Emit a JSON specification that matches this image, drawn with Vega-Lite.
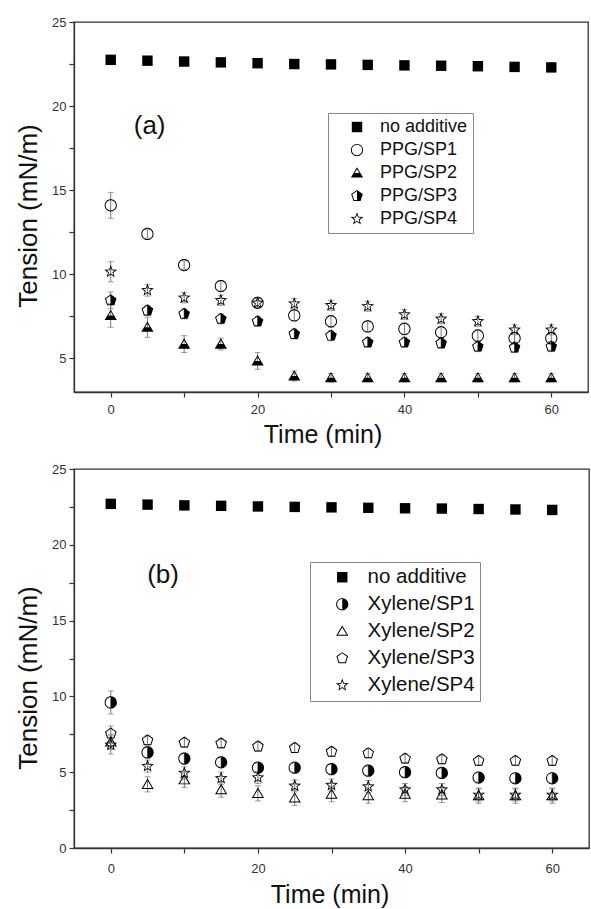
{
  "$schema": "https://vega.github.io/schema/vega-lite/v6.json",
  "padding": {"left": 14, "top": 15, "right": 0, "bottom": 0},
  "bounds": "flush",
  "spacing": 77,
  "config": {
    "font": "Liberation Sans",
    "view": {"stroke": "#333", "strokeWidth": 1.3},
    "axis": {"labelFont": "Liberation Sans", "labelFontSize": 13, "labelColor": "#333", "titleFont": "Liberation Sans", "titleFontWeight": "normal", "titleColor": "#111", "tickColor": "#333", "domainColor": "#333", "tickSize": 5, "domainWidth": 1.3, "tickWidth": 1.2, "grid": false},
    "legend": {"labelFont": "Liberation Sans", "labelColor": "#111", "strokeColor": "#888", "fillColor": "white", "padding": 5, "symbolSize": 150, "symbolStrokeWidth": 0, "symbolFillColor": "black", "symbolOpacity": 1}
  },
  "datasets": {
    "top": [
      {"t":0,"series":"no additive","v":22.75,"err":0.15},{"t":5,"series":"no additive","v":22.7,"err":0.15},{"t":10,"series":"no additive","v":22.65,"err":0.15},{"t":15,"series":"no additive","v":22.6,"err":0.15},{"t":20,"series":"no additive","v":22.55,"err":0.15},{"t":25,"series":"no additive","v":22.5,"err":0.15},{"t":30,"series":"no additive","v":22.48,"err":0.15},{"t":35,"series":"no additive","v":22.45,"err":0.15},{"t":40,"series":"no additive","v":22.42,"err":0.15},{"t":45,"series":"no additive","v":22.4,"err":0.15},{"t":50,"series":"no additive","v":22.37,"err":0.15},{"t":55,"series":"no additive","v":22.33,"err":0.15},{"t":60,"series":"no additive","v":22.3,"err":0.15},
      {"t":0,"series":"PPG/SP1","v":14.1,"err":0.77},{"t":5,"series":"PPG/SP1","v":12.4,"err":0.25},{"t":10,"series":"PPG/SP1","v":10.55,"err":0.25},{"t":15,"series":"PPG/SP1","v":9.3,"err":0.3},{"t":20,"series":"PPG/SP1","v":8.3,"err":0.25},{"t":25,"series":"PPG/SP1","v":7.55,"err":0.3},{"t":30,"series":"PPG/SP1","v":7.2,"err":0.35},{"t":35,"series":"PPG/SP1","v":6.9,"err":0.3},{"t":40,"series":"PPG/SP1","v":6.75,"err":0.35},{"t":45,"series":"PPG/SP1","v":6.55,"err":0.35},{"t":50,"series":"PPG/SP1","v":6.35,"err":0.35},{"t":55,"series":"PPG/SP1","v":6.2,"err":0.35},{"t":60,"series":"PPG/SP1","v":6.2,"err":0.35},
      {"t":0,"series":"PPG/SP2","v":7.55,"err":0.7},{"t":5,"series":"PPG/SP2","v":6.85,"err":0.6},{"t":10,"series":"PPG/SP2","v":5.85,"err":0.5},{"t":15,"series":"PPG/SP2","v":5.85,"err":0.35},{"t":20,"series":"PPG/SP2","v":4.85,"err":0.5},{"t":25,"series":"PPG/SP2","v":3.95,"err":0.3},{"t":30,"series":"PPG/SP2","v":3.85,"err":0.25},{"t":35,"series":"PPG/SP2","v":3.85,"err":0.25},{"t":40,"series":"PPG/SP2","v":3.85,"err":0.25},{"t":45,"series":"PPG/SP2","v":3.85,"err":0.25},{"t":50,"series":"PPG/SP2","v":3.85,"err":0.25},{"t":55,"series":"PPG/SP2","v":3.85,"err":0.25},{"t":60,"series":"PPG/SP2","v":3.85,"err":0.25},
      {"t":0,"series":"PPG/SP3","v":8.45,"err":0.5},{"t":5,"series":"PPG/SP3","v":7.85,"err":0.3},{"t":10,"series":"PPG/SP3","v":7.65,"err":0.3},{"t":15,"series":"PPG/SP3","v":7.35,"err":0.3},{"t":20,"series":"PPG/SP3","v":7.2,"err":0.3},{"t":25,"series":"PPG/SP3","v":6.45,"err":0.3},{"t":30,"series":"PPG/SP3","v":6.35,"err":0.3},{"t":35,"series":"PPG/SP3","v":5.95,"err":0.3},{"t":40,"series":"PPG/SP3","v":5.95,"err":0.3},{"t":45,"series":"PPG/SP3","v":5.9,"err":0.3},{"t":50,"series":"PPG/SP3","v":5.7,"err":0.3},{"t":55,"series":"PPG/SP3","v":5.65,"err":0.3},{"t":60,"series":"PPG/SP3","v":5.7,"err":0.3},
      {"t":0,"series":"PPG/SP4","v":10.15,"err":0.6},{"t":5,"series":"PPG/SP4","v":9.05,"err":0.35},{"t":10,"series":"PPG/SP4","v":8.6,"err":0.3},{"t":15,"series":"PPG/SP4","v":8.45,"err":0.3},{"t":20,"series":"PPG/SP4","v":8.3,"err":0.3},{"t":25,"series":"PPG/SP4","v":8.25,"err":0.3},{"t":30,"series":"PPG/SP4","v":8.15,"err":0.3},{"t":35,"series":"PPG/SP4","v":8.1,"err":0.3},{"t":40,"series":"PPG/SP4","v":7.6,"err":0.3},{"t":45,"series":"PPG/SP4","v":7.35,"err":0.3},{"t":50,"series":"PPG/SP4","v":7.2,"err":0.3},{"t":55,"series":"PPG/SP4","v":6.7,"err":0.3},{"t":60,"series":"PPG/SP4","v":6.7,"err":0.3}
    ],
    "bottom": [
      {"t":0,"series":"no additive","v":22.7,"err":0.15},{"t":5,"series":"no additive","v":22.65,"err":0.15},{"t":10,"series":"no additive","v":22.6,"err":0.15},{"t":15,"series":"no additive","v":22.57,"err":0.15},{"t":20,"series":"no additive","v":22.53,"err":0.15},{"t":25,"series":"no additive","v":22.5,"err":0.15},{"t":30,"series":"no additive","v":22.47,"err":0.15},{"t":35,"series":"no additive","v":22.44,"err":0.15},{"t":40,"series":"no additive","v":22.41,"err":0.15},{"t":45,"series":"no additive","v":22.39,"err":0.15},{"t":50,"series":"no additive","v":22.36,"err":0.15},{"t":55,"series":"no additive","v":22.33,"err":0.15},{"t":60,"series":"no additive","v":22.3,"err":0.15},
      {"t":0,"series":"Xylene/SP1","v":9.6,"err":0.76},{"t":5,"series":"Xylene/SP1","v":6.3,"err":0.35},{"t":10,"series":"Xylene/SP1","v":5.9,"err":0.35},{"t":15,"series":"Xylene/SP1","v":5.65,"err":0.3},{"t":20,"series":"Xylene/SP1","v":5.3,"err":0.3},{"t":25,"series":"Xylene/SP1","v":5.3,"err":0.3},{"t":30,"series":"Xylene/SP1","v":5.2,"err":0.3},{"t":35,"series":"Xylene/SP1","v":5.1,"err":0.3},{"t":40,"series":"Xylene/SP1","v":5.0,"err":0.3},{"t":45,"series":"Xylene/SP1","v":4.95,"err":0.3},{"t":50,"series":"Xylene/SP1","v":4.65,"err":0.3},{"t":55,"series":"Xylene/SP1","v":4.6,"err":0.3},{"t":60,"series":"Xylene/SP1","v":4.6,"err":0.3},
      {"t":0,"series":"Xylene/SP2","v":7.0,"err":0.5},{"t":5,"series":"Xylene/SP2","v":4.2,"err":0.5},{"t":10,"series":"Xylene/SP2","v":4.5,"err":0.5},{"t":15,"series":"Xylene/SP2","v":3.85,"err":0.5},{"t":20,"series":"Xylene/SP2","v":3.6,"err":0.5},{"t":25,"series":"Xylene/SP2","v":3.3,"err":0.5},{"t":30,"series":"Xylene/SP2","v":3.55,"err":0.5},{"t":35,"series":"Xylene/SP2","v":3.45,"err":0.5},{"t":40,"series":"Xylene/SP2","v":3.55,"err":0.5},{"t":45,"series":"Xylene/SP2","v":3.5,"err":0.5},{"t":50,"series":"Xylene/SP2","v":3.45,"err":0.5},{"t":55,"series":"Xylene/SP2","v":3.45,"err":0.5},{"t":60,"series":"Xylene/SP2","v":3.45,"err":0.5},
      {"t":0,"series":"Xylene/SP3","v":7.55,"err":0.5},{"t":5,"series":"Xylene/SP3","v":7.1,"err":0.3},{"t":10,"series":"Xylene/SP3","v":6.95,"err":0.3},{"t":15,"series":"Xylene/SP3","v":6.9,"err":0.3},{"t":20,"series":"Xylene/SP3","v":6.7,"err":0.3},{"t":25,"series":"Xylene/SP3","v":6.6,"err":0.3},{"t":30,"series":"Xylene/SP3","v":6.35,"err":0.3},{"t":35,"series":"Xylene/SP3","v":6.25,"err":0.3},{"t":40,"series":"Xylene/SP3","v":5.9,"err":0.3},{"t":45,"series":"Xylene/SP3","v":5.85,"err":0.3},{"t":50,"series":"Xylene/SP3","v":5.75,"err":0.3},{"t":55,"series":"Xylene/SP3","v":5.75,"err":0.3},{"t":60,"series":"Xylene/SP3","v":5.75,"err":0.3},
      {"t":0,"series":"Xylene/SP4","v":6.8,"err":0.6},{"t":5,"series":"Xylene/SP4","v":5.4,"err":0.4},{"t":10,"series":"Xylene/SP4","v":4.95,"err":0.4},{"t":15,"series":"Xylene/SP4","v":4.6,"err":0.4},{"t":20,"series":"Xylene/SP4","v":4.65,"err":0.4},{"t":25,"series":"Xylene/SP4","v":4.1,"err":0.4},{"t":30,"series":"Xylene/SP4","v":4.15,"err":0.4},{"t":35,"series":"Xylene/SP4","v":4.05,"err":0.4},{"t":40,"series":"Xylene/SP4","v":3.85,"err":0.4},{"t":45,"series":"Xylene/SP4","v":3.85,"err":0.4},{"t":50,"series":"Xylene/SP4","v":3.5,"err":0.4},{"t":55,"series":"Xylene/SP4","v":3.5,"err":0.4},{"t":60,"series":"Xylene/SP4","v":3.5,"err":0.4}
    ]
  },
  "vconcat": [
    {
      "width": 514,
      "height": 370,
      "encoding": {
        "x": {"field": "t", "type": "quantitative", "scale": {"domain": [-5, 65], "nice": false, "zero": false},
          "axis": {"values": [0,10,20,30,40,50,60], "labelExpr": "datum.value % 20 === 0 ? datum.label : ''", "title": "Time (min)", "titleFontSize": 25, "titleX": 248.5, "titleY": 50, "titleBaseline": "alphabetic", "labelPadding": 6}},
        "y": {"field": "v", "type": "quantitative", "scale": {"domain": [3, 25], "nice": false, "zero": false},
          "axis": {"values": [5,7.5,10,12.5,15,17.5,20,22.5,25], "labelExpr": "datum.value % 5 === 0 ? datum.label : ''", "title": "Tension (mN/m)", "titleFontSize": 26, "titleX": -46, "titleY": 193.5, "titleBaseline": "middle", "titleAngle": 270, "labelPadding": 3}}
      },
      "layer": [
        {"data": {"name": "top"}, "mark": {"type": "errorbar", "ticks": {"size": 6}, "color": "#777", "thickness": 1}, "encoding": {"yError": {"field": "err"}}},
        {"data": {"name": "top"}, "mark": {"type": "point", "filled": true, "color": "black", "size": 150, "strokeWidth": 0, "opacity": 1},
          "encoding": {"shape": {"field": "series", "type": "nominal",
            "scale": {"domain": ["no additive","PPG/SP1","PPG/SP2","PPG/SP3","PPG/SP4"],
              "range": [
                "M-0.85 -0.85 L0.85 -0.85 L0.85 0.85 L-0.85 0.85 Z",
                "M1 0 A1 1 0 1 1 -1 0 A1 1 0 1 1 1 0 Z M0.84 0 A0.84 0.84 0 1 0 -0.84 0 A0.84 0.84 0 1 0 0.84 0 Z",
                "M0 -0.95 L1 0.75 L-1 0.75 Z M0 -0.63 L-0.72 0.59 L0.72 0.59 Z M-0.37 0 L0.37 0 L0.72 0.59 L-0.72 0.59 Z",
                "M0 -1 L0.951 -0.309 L0.588 0.809 L-0.588 0.809 L-0.951 -0.309 Z M0 -0.802 L-0.763 -0.248 L-0.472 0.649 L0.472 0.649 L0.763 -0.248 Z M0 -0.802 L0.763 -0.248 L0.472 0.649 L0 0.649 Z",
                "M0 -1.1 L0.272 -0.374 L1.046 -0.34 L0.439 0.143 L0.647 0.89 L0 0.462 L-0.647 0.89 L-0.439 0.143 L-1.046 -0.34 L-0.272 -0.374 Z M0 -0.7 L-0.173 -0.238 L-0.666 -0.216 L-0.279 0.091 L-0.412 0.566 L0 0.294 L0.412 0.566 L0.279 0.091 L0.666 -0.216 L0.173 -0.238 Z"
              ]},
            "legend": {"orient": "none", "legendX": 254, "legendY": 91, "title": null, "labelFontSize": 18, "symbolOffset": 15, "labelOffset": 14, "rowPadding": 5}}}},
        {"data": {"values": [{"t": 5.3, "v": 18.8, "label": "(a)"}]}, "mark": {"type": "text", "fontSize": 26, "font": "Liberation Sans", "color": "#111"}, "encoding": {"text": {"field": "label"}}}
      ]
    },
    {
      "width": 515,
      "height": 379,
      "encoding": {
        "x": {"field": "t", "type": "quantitative", "scale": {"domain": [-5, 65], "nice": false, "zero": false},
          "axis": {"values": [0,10,20,30,40,50,60], "labelExpr": "datum.value % 20 === 0 ? datum.label : ''", "title": "Time (min)", "titleFontSize": 25, "titleX": 255.5, "titleY": 54, "titleBaseline": "alphabetic", "labelPadding": 9}},
        "y": {"field": "v", "type": "quantitative", "scale": {"domain": [0, 25], "nice": false, "zero": false},
          "axis": {"values": [0,2.5,5,7.5,10,12.5,15,17.5,20,22.5,25], "labelExpr": "datum.value % 5 === 0 ? datum.label : ''", "title": "Tension (mN/m)", "titleFontSize": 26, "titleX": -46, "titleY": 208.5, "titleBaseline": "middle", "titleAngle": 270, "labelPadding": 3}}
      },
      "layer": [
        {"data": {"name": "bottom"}, "mark": {"type": "errorbar", "ticks": {"size": 6}, "color": "#777", "thickness": 1}, "encoding": {"yError": {"field": "err"}}},
        {"data": {"name": "bottom"}, "mark": {"type": "point", "filled": true, "color": "black", "size": 150, "strokeWidth": 0, "opacity": 1},
          "encoding": {"shape": {"field": "series", "type": "nominal",
            "scale": {"domain": ["no additive","Xylene/SP1","Xylene/SP2","Xylene/SP3","Xylene/SP4"],
              "range": [
                "M-0.85 -0.85 L0.85 -0.85 L0.85 0.85 L-0.85 0.85 Z",
                "M1 0 A1 1 0 1 1 -1 0 A1 1 0 1 1 1 0 Z M0.84 0 A0.84 0.84 0 1 0 -0.84 0 A0.84 0.84 0 1 0 0.84 0 Z M0 -0.84 A0.84 0.84 0 0 1 0 0.84 Z",
                "M0 -0.95 L1 0.75 L-1 0.75 Z M0 -0.63 L-0.72 0.59 L0.72 0.59 Z",
                "M0 -1 L0.951 -0.309 L0.588 0.809 L-0.588 0.809 L-0.951 -0.309 Z M0 -0.802 L-0.763 -0.248 L-0.472 0.649 L0.472 0.649 L0.763 -0.248 Z",
                "M0 -1.1 L0.272 -0.374 L1.046 -0.34 L0.439 0.143 L0.647 0.89 L0 0.462 L-0.647 0.89 L-0.439 0.143 L-1.046 -0.34 L-0.272 -0.374 Z M0 -0.7 L-0.173 -0.238 L-0.666 -0.216 L-0.279 0.091 L-0.412 0.566 L0 0.294 L0.412 0.566 L0.279 0.091 L0.666 -0.216 L0.173 -0.238 Z"
              ]},
            "legend": {"orient": "none", "legendX": 236, "legendY": 93, "title": null, "labelFontSize": 20.5, "symbolOffset": 17, "labelOffset": 15, "rowPadding": 6}}}},
        {"data": {"values": [{"t": 7.1, "v": 18.0, "label": "(b)"}]}, "mark": {"type": "text", "fontSize": 26, "font": "Liberation Sans", "color": "#111"}, "encoding": {"text": {"field": "label"}}}
      ]
    }
  ],
  "resolve": {"scale": {"shape": "independent", "y": "independent", "x": "independent"}, "legend": {"shape": "independent"}}
}
